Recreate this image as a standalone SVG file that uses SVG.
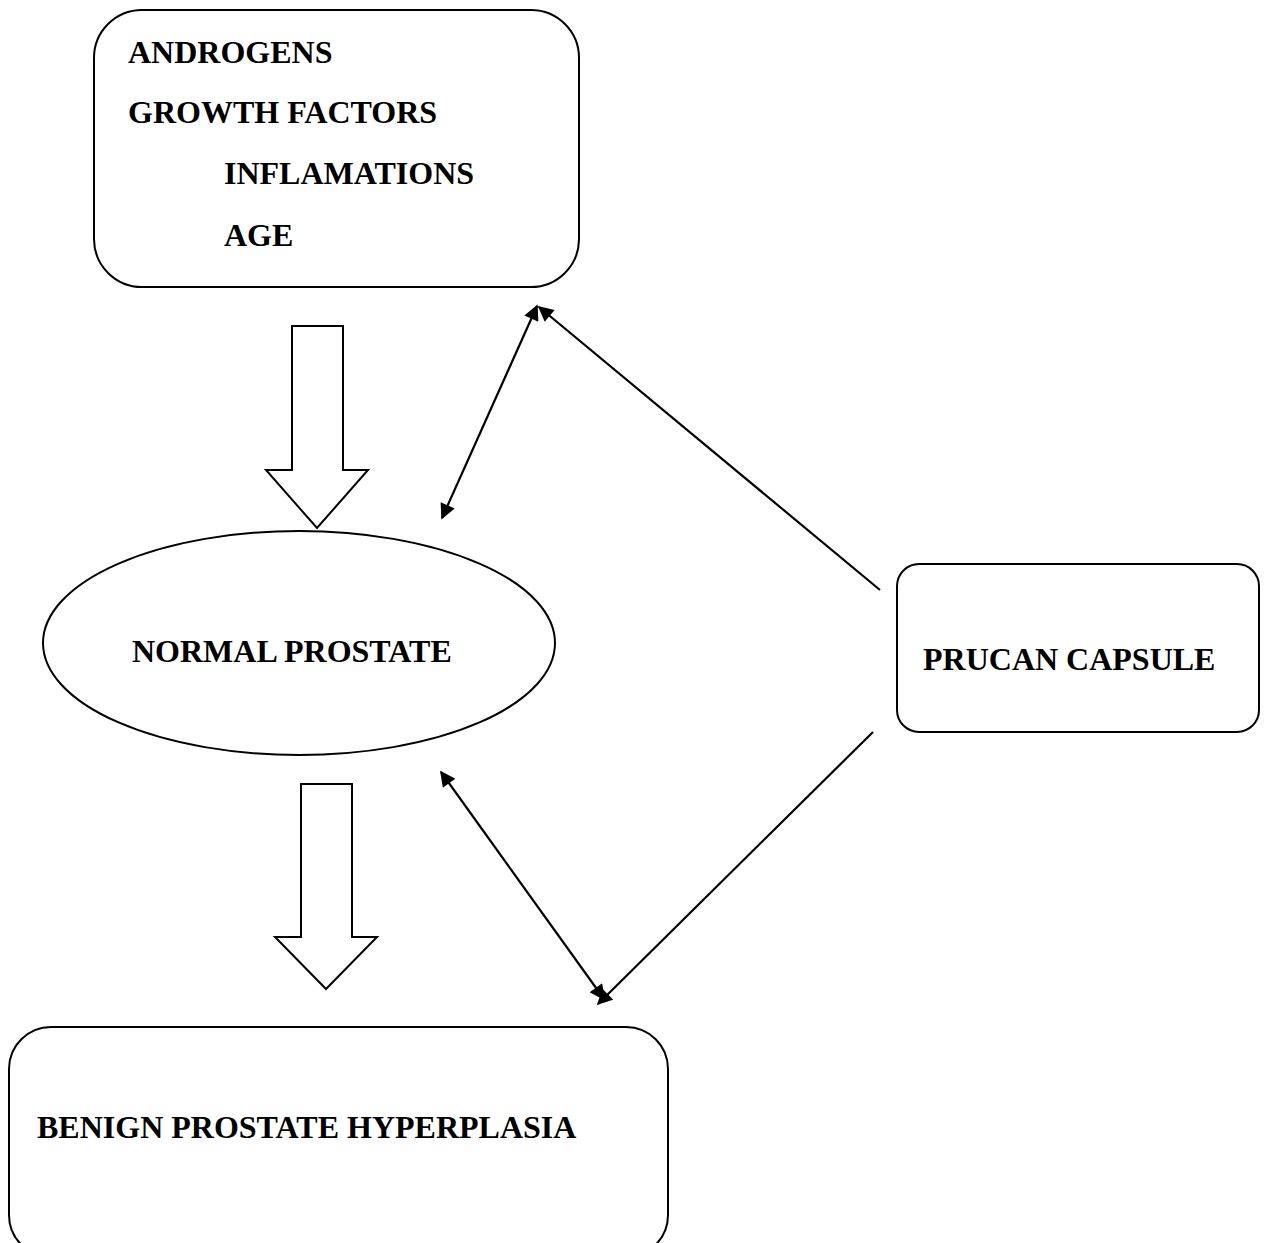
<svg xmlns="http://www.w3.org/2000/svg" width="1264" height="1243" viewBox="0 0 1264 1243">
<style>
.box{fill:#fff;stroke:#000;stroke-width:2}
.blk{fill:#fff;stroke:#000;stroke-width:2;stroke-linejoin:miter}
.t{font-family:"Liberation Serif","Times New Roman",serif;font-weight:bold;font-size:32px;fill:#000}
.ln{stroke:#000;stroke-width:2.2;fill:none}
</style>
<defs>
<marker id="ah" viewBox="0 0 10 10" refX="9" refY="5" markerWidth="7.5" markerHeight="7" markerUnits="strokeWidth" orient="auto-start-reverse">
<path d="M0,0 L10,5 L0,10 z" fill="#000"/>
</marker>
</defs>
<rect width="1264" height="1243" fill="#fff"/>
<g id="factors">
<rect class="box" x="94" y="10" width="485" height="277" rx="48" ry="48"/>
<text class="t" x="128" y="63">ANDROGENS</text>
<text class="t" x="128" y="123">GROWTH FACTORS</text>
<text class="t" x="224" y="184">INFLAMATIONS</text>
<text class="t" x="224" y="246">AGE</text>
</g>
<g id="normal">
<ellipse class="box" cx="299" cy="643" rx="256" ry="112"/>
<text class="t" x="132" y="662">NORMAL PROSTATE</text>
</g>
<g id="prucan">
<rect class="box" x="897" y="564" width="362" height="168" rx="22" ry="22"/>
<text class="t" x="923" y="670">PRUCAN CAPSULE</text>
</g>
<g id="bph">
<rect class="box" x="9" y="1027" width="659" height="230" rx="42" ry="42"/>
<text class="t" x="37" y="1138">BENIGN PROSTATE HYPERPLASIA</text>
</g>
<g id="connectors">
<path class="blk" d="M292,326 L343,326 L343,470 L368,470 L317,528 L266,470 L292,470 Z"/>
<path class="blk" d="M301,784 L352,784 L352,937 L377,937 L326,989 L275,937 L301,937 Z"/>
<line class="ln" x1="880" y1="590" x2="539" y2="307" marker-end="url(#ah)"/>
<line class="ln" x1="442" y1="518" x2="537" y2="306" marker-start="url(#ah)" marker-end="url(#ah)"/>
<line class="ln" x1="873" y1="732" x2="598" y2="1004" marker-end="url(#ah)"/>
<line class="ln" x1="441" y1="772" x2="604" y2="999" marker-start="url(#ah)" marker-end="url(#ah)"/>
</g>
</svg>
